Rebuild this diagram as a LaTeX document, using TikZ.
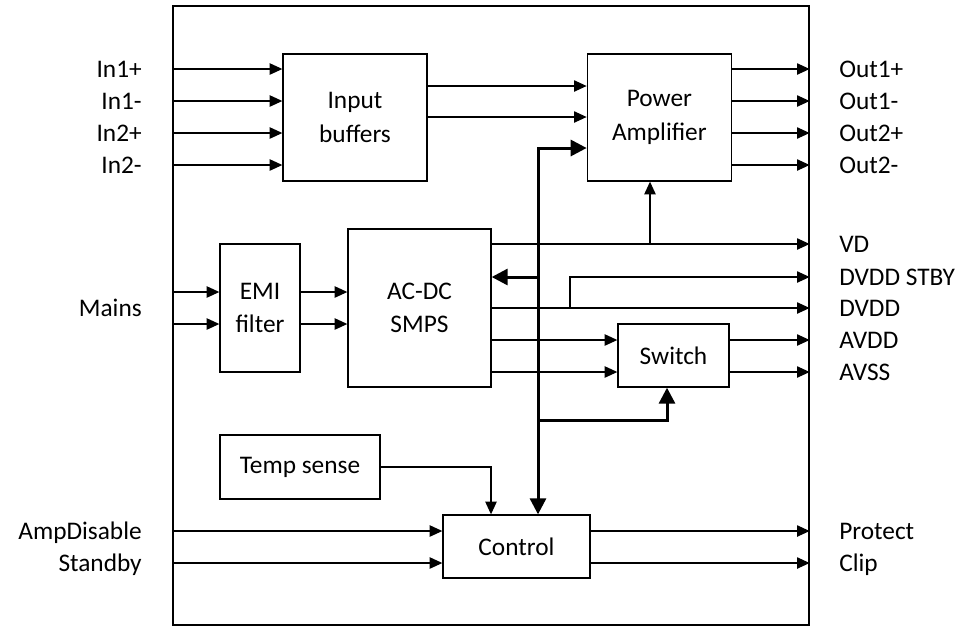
\documentclass[tikz,border=0pt]{standalone}
\usepackage{fontspec}
\setmainfont{Carlito}
\usetikzlibrary{arrows.meta, positioning}

\begin{document}
\begin{tikzpicture}[x=0.75pt, y=-0.75pt,
    >={Triangle[length=9.5pt,width=8.5pt]},
    sig/.style={->, line width=1pt},
    bus/.style={line width=2.25pt, >={Triangle[length=12pt,width=12pt]}},
    blk/.style={draw, line width=1pt, align=center, inner sep=0pt, font=\fontsize{19}{25}\selectfont},
    pinlbl/.style={inner sep=0pt, text height=12.2pt, text depth=0pt, font=\fontsize{19}{25}\selectfont}
]
\useasboundingbox (0,0) rectangle (966,626);

% Chip outline
\node[draw, line width=1pt, minimum width=477pt, minimum height=464.25pt, inner sep=0pt] (chip) at (491,315.5) {};

% Blocks
\node[blk, minimum width=108pt, minimum height=95.25pt] (buf) at (355,117.5) {Input\\buffers};
\node[blk, minimum width=108pt, minimum height=95.25pt, right=119.25pt of buf] (amp) {Power\\Amplifier};
\node[blk, minimum width=60pt, minimum height=96pt] (emi) at (260,308) {EMI\\filter};
\node[blk, minimum width=107.25pt, minimum height=118.5pt] (smps) at (419.5,308) {AC-DC\\SMPS};
\node[blk, minimum width=83.25pt, minimum height=47.25pt] (sw) at (673.5,355.5) {Switch};
\node[blk, minimum width=120pt, minimum height=48pt] (temp) at (300,467) {Temp sense};
\node[blk, minimum width=110.25pt, minimum height=47.25pt] (ctrl) at (516.5,546.5) {Control};

% Audio inputs
\foreach \n/\y/\t in {in1/69/In1+, in2/101/In1-, in3/133/In2+, in4/165/In2-} {
  \node[pinlbl, anchor=east] (\n) at (142,\y) {\t};
  \draw[sig] (chip.west |- \n) -- (buf.west |- \n);
}

% Audio outputs
\foreach \n/\y/\t in {out1/69/Out1+, out2/101/Out1-, out3/133/Out2+, out4/165/Out2-} {
  \node[pinlbl, anchor=west] (\n) at (839,\y) {\t};
  \draw[sig] (amp.east |- \n) -- (chip.east |- \n);
}

% Buffers to amplifier
\draw[sig] (buf.east |- 0,86) -- (amp.west |- 0,86);
\draw[sig] (buf.east |- 0,117) -- (amp.west |- 0,117);

% Mains input
\node[pinlbl, anchor=east] (mains) at (142,308) {Mains};
\foreach \y in {292,324} {
  \draw[sig] (chip.west |- 0,\y) -- (emi.west |- 0,\y);
  \draw[sig] (emi.east |- 0,\y) -- (smps.west |- 0,\y);
}

% Supply outputs
\node[pinlbl, anchor=west] (vd) at (839,244) {VD};
\node[pinlbl, anchor=west] (dvddstby) at (839,277) {DVDD STBY};
\node[pinlbl, anchor=west] (dvdd) at (839,308) {DVDD};
\node[pinlbl, anchor=west] (avdd) at (839,340) {AVDD};
\node[pinlbl, anchor=west] (avss) at (839,372) {AVSS};

\coordinate (vdtap) at (650,244);
\coordinate (stbytap) at (570,308);

\draw[sig] (smps.east |- vd) -- (chip.east |- vd);
\draw[sig] (vdtap) -- (amp.south -| vdtap);
\draw[sig] (smps.east |- dvdd) -- (chip.east |- dvdd);
\draw[sig] (stbytap) |- (chip.east |- dvddstby);
\draw[sig] (smps.east |- avdd) -- (sw.west |- avdd);
\draw[sig] (smps.east |- avss) -- (sw.west |- avss);
\draw[sig] (sw.east |- avdd) -- (chip.east |- avdd);
\draw[sig] (sw.east |- avss) -- (chip.east |- avss);

% Control pins
\node[pinlbl, anchor=east] (ampdis) at (142,531) {AmpDisable};
\node[pinlbl, anchor=east] (stdby) at (142,563) {Standby};
\node[pinlbl, anchor=west] (protect) at (839,531) {Protect};
\node[pinlbl, anchor=west] (clip) at (839,563) {Clip};

\draw[sig] (chip.west |- ampdis) -- (ctrl.west |- ampdis);
\draw[sig] (chip.west |- stdby) -- (ctrl.west |- stdby);
\draw[sig] (ctrl.east |- protect) -- (chip.east |- protect);
\draw[sig] (ctrl.east |- clip) -- (chip.east |- clip);
\draw[sig] (temp.east) -| (ctrl.north -| 491,0);

% Control bus
\coordinate (bustop) at (538,148);
\draw[bus, <->] (amp.west |- bustop) -- (bustop) -- (ctrl.north -| bustop);
\draw[bus, ->] (bustop |- 0,277) -- (smps.east |- 0,277);
\draw[bus, ->] (bustop |- 0,420) -| (sw.south -| 667,0);

\end{tikzpicture}
\end{document}
